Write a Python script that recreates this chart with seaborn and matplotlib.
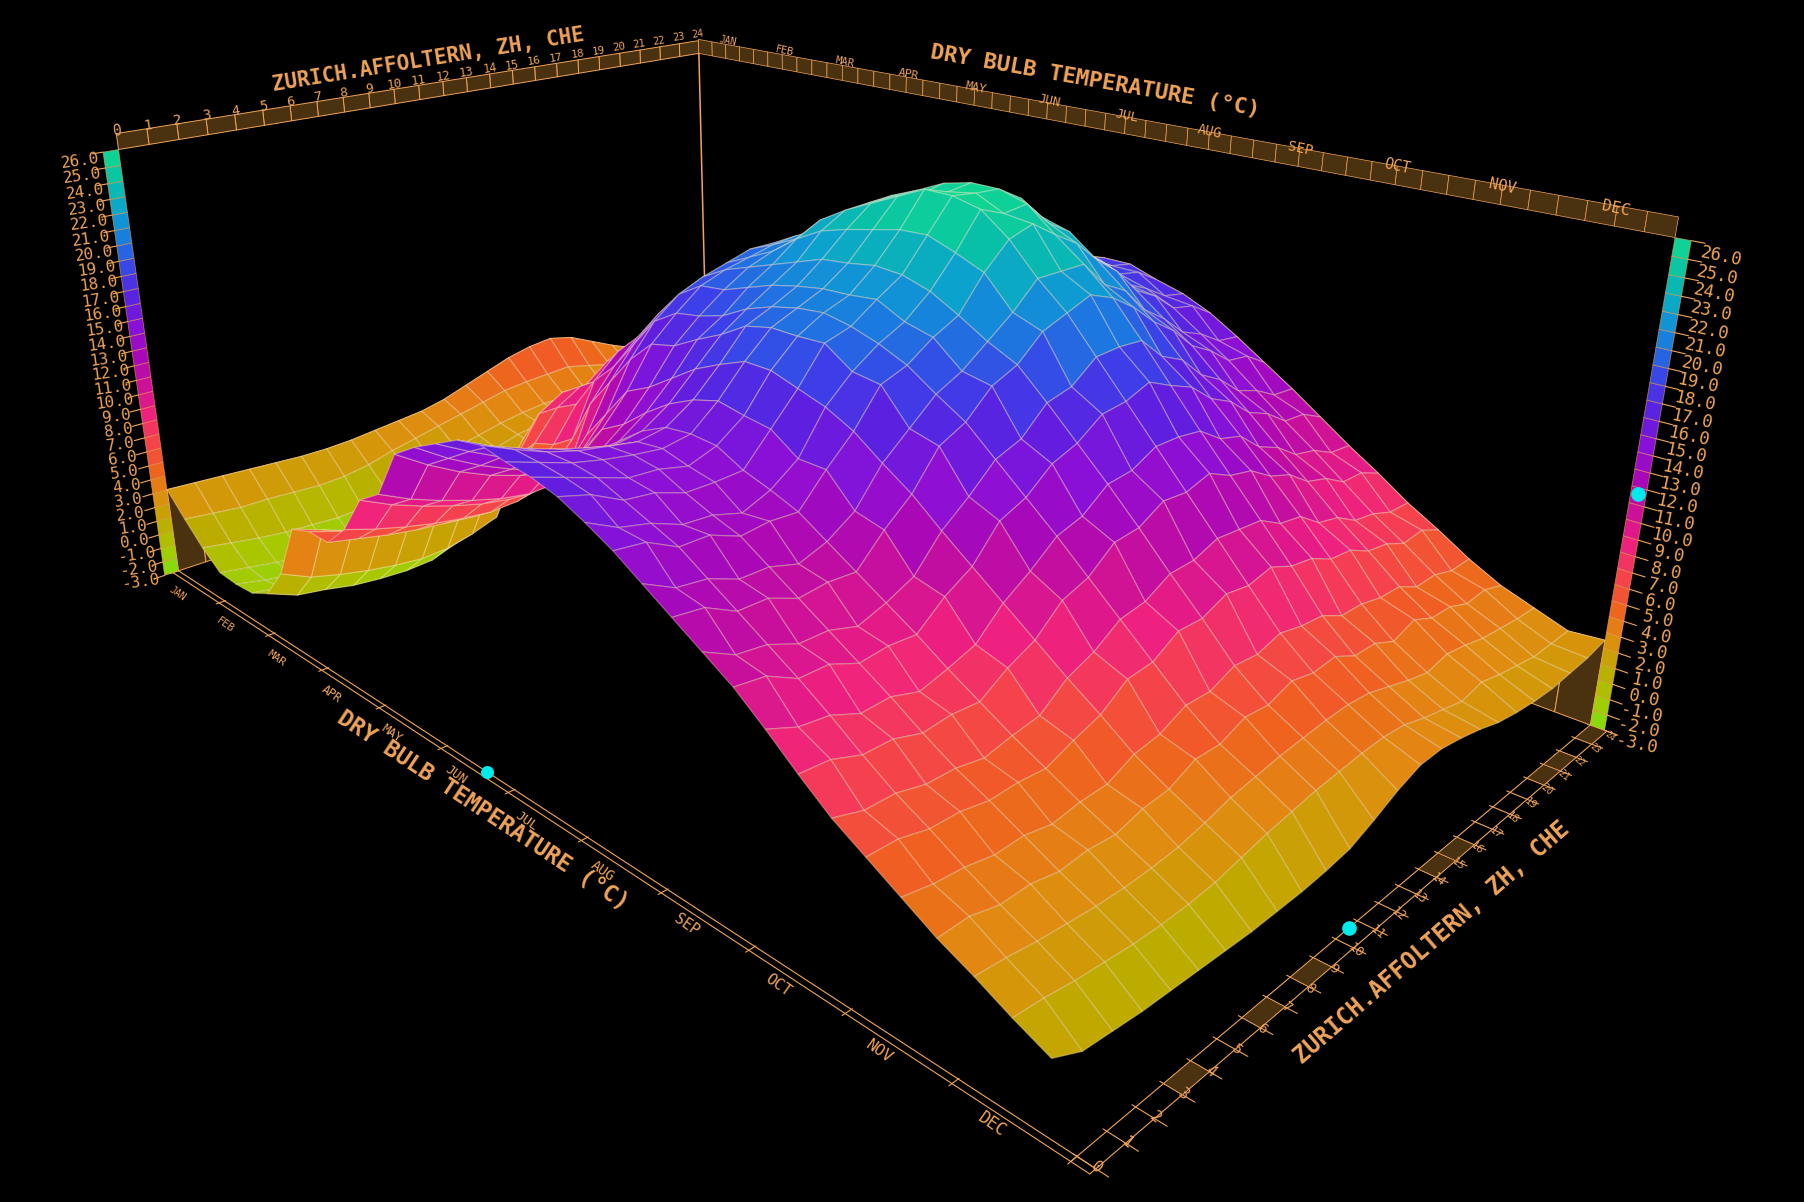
#!/usr/bin/env python3
# Surface of dry bulb temperature by month and hour, seen from above the December corner.
import numpy as np
import seaborn as sns
from matplotlib import pyplot as plt
from matplotlib.colors import Normalize
from mpl_toolkits.mplot3d import proj3d
from mpl_toolkits.mplot3d.art3d import Poly3DCollection

month_names = ["Jan", "Feb", "Mar", "Apr", "May", "Jun", "Jul", "Aug", "Sep", "Oct", "Nov", "Dec"]
hour_pos = list(range(25))
temp_ticks = list(range(-3, 27))
cursor_month = 5.6
cursor_hour = 10.6
cursor_temp = 11.6

# one row per hour, one value every third of a month
h00 = [3.0, 1.5, 0.1, -1.0, -1.1, -1.0, -0.3, 1.8, 5.5, 6.0, 6.0, 7.5, 10.0, 11.0, 14.0, 15.0, 15.8, 16.6, 16.9, 16.6, 16.4, 16.0, 15.3, 14.5, 13.5, 12.5, 11.5, 10.5, 9.2, 7.8, 6.5, 5.5, 4.5, 3.5, 2.7, 1.8, 1.0]
h01 = [2.9, 1.3, -0.2, -1.3, -1.5, -1.3, -1.1, 0.9, 4.8, 5.4, 5.6, 6.9, 9.1, 10.1, 12.8, 13.8, 14.8, 15.7, 16.1, 16.0, 15.8, 15.5, 14.4, 14.3, 12.6, 12.3, 10.6, 10.3, 8.5, 7.7, 6.0, 5.5, 4.2, 3.6, 2.6, 1.7, 0.2]
h02 = [2.8, 1.1, -0.5, -1.6, -1.8, -1.6, -1.4, 0.4, 4.1, 4.9, 5.2, 6.4, 8.4, 9.4, 11.8, 12.8, 13.9, 15.0, 15.4, 15.4, 15.2, 14.6, 14.0, 13.4, 12.4, 11.4, 10.4, 9.4, 8.3, 7.1, 6.0, 5.1, 4.1, 3.2, 2.4, 1.5, 0.1]
h03 = [2.7, 1.1, -0.7, -1.8, -2.1, -1.9, -1.8, 0.0, 3.6, 4.5, 4.9, 6.0, 7.8, 8.8, 11.0, 12.0, 13.3, 14.4, 14.9, 15.0, 14.6, 14.4, 13.3, 13.4, 11.7, 11.4, 9.7, 9.4, 7.6, 7.1, 5.6, 5.1, 3.8, 3.3, 2.3, 1.4, 0.0]
h04 = [2.6, 1.0, -0.8, -1.9, -2.2, -2.1, -2.0, -0.3, 3.3, 4.2, 4.7, 5.7, 7.3, 8.3, 10.4, 11.4, 12.8, 13.9, 14.6, 14.7, 14.5, 13.8, 13.2, 12.7, 11.7, 10.7, 9.7, 8.7, 7.7, 6.6, 5.6, 4.8, 3.9, 3.0, 2.2, 1.3, 0.0]
h05 = [2.5, 0.9, -0.9, -2.0, -2.3, -2.2, -2.1, -0.5, 3.0, 4.0, 4.5, 5.5, 7.0, 8.0, 10.0, 11.0, 12.4, 13.5, 14.3, 14.5, 14.1, 13.8, 12.7, 12.9, 11.2, 10.9, 9.2, 8.9, 7.2, 6.8, 5.3, 4.9, 3.6, 3.2, 2.2, 1.3, 0.0]
h06 = [2.5, 1.0, -0.8, -1.9, -2.2, -2.1, -2.0, -0.4, 3.1, 4.1, 4.6, 5.6, 7.1, 8.1, 10.1, 11.2, 12.6, 13.8, 14.6, 14.8, 14.7, 13.9, 13.4, 12.8, 11.8, 10.8, 9.8, 8.8, 7.7, 6.7, 5.7, 4.8, 3.9, 3.1, 2.3, 1.4, 0.0]
h07 = [2.6, 1.3, -0.1, -1.3, -1.6, -1.5, -1.4, 0.0, 3.5, 4.5, 5.0, 6.0, 7.5, 9.6, 11.6, 12.5, 13.8, 14.9, 15.7, 16.2, 15.9, 15.7, 14.6, 14.6, 12.9, 12.5, 10.6, 10.2, 8.3, 7.8, 6.0, 5.5, 4.0, 3.6, 2.5, 1.6, 0.0]
h08 = [2.8, 1.8, 0.6, -0.6, -0.9, -0.9, -0.8, 0.6, 4.0, 5.0, 5.6, 6.6, 9.5, 11.5, 13.5, 14.3, 15.4, 16.5, 17.3, 18.0, 18.0, 17.5, 17.0, 16.2, 15.0, 13.9, 12.5, 11.2, 9.9, 8.6, 7.3, 6.1, 4.8, 3.8, 2.9, 2.0, 0.1]
h09 = [3.0, 2.2, 0.9, 0.3, -0.1, 0.0, 2.0, 4.5, 6.0, 6.5, 7.5, 10.5, 12.5, 14.5, 16.0, 16.4, 17.3, 18.1, 19.1, 19.5, 19.5, 19.6, 18.5, 18.3, 16.4, 16.0, 13.8, 13.1, 11.0, 10.1, 8.0, 7.3, 5.1, 4.6, 3.4, 2.4, 0.2]
h10 = [3.2, 2.6, 1.5, 0.9, 0.6, 0.9, 4.5, 7.0, 8.0, 8.8, 11.0, 12.5, 14.5, 16.5, 17.5, 17.8, 18.3, 19.2, 19.8, 20.2, 20.4, 20.1, 19.6, 18.9, 17.8, 16.8, 15.3, 13.8, 12.3, 10.7, 9.1, 7.5, 5.9, 4.6, 3.7, 2.7, 0.4]
h11 = [3.6, 3.0, 1.9, 1.5, 1.2, 1.3, 5.5, 8.0, 9.0, 10.0, 12.5, 14.0, 16.0, 17.8, 18.8, 19.0, 19.6, 20.2, 20.6, 20.9, 21.0, 21.2, 20.4, 20.0, 18.6, 18.3, 15.9, 15.1, 12.8, 12.0, 9.4, 8.5, 5.9, 5.3, 4.0, 3.0, 0.7]
h12 = [4.2, 3.4, 2.3, 2.0, 1.7, 1.8, 5.5, 8.0, 9.0, 10.0, 13.0, 15.0, 17.0, 18.5, 19.4, 20.0, 20.6, 21.2, 21.8, 22.0, 22.3, 22.2, 21.7, 20.8, 19.8, 19.0, 17.4, 15.7, 14.0, 12.2, 10.3, 8.5, 6.6, 5.2, 4.2, 3.2, 1.4]
h13 = [4.8, 3.8, 2.6, 2.3, 2.0, 2.2, 7.0, 9.3, 10.2, 11.1, 12.8, 15.5, 17.5, 19.0, 19.8, 20.6, 21.8, 22.7, 23.2, 23.6, 24.0, 24.1, 23.5, 22.8, 21.0, 20.4, 17.8, 16.8, 14.2, 13.1, 10.4, 9.2, 6.5, 5.8, 4.4, 3.4, 2.2]
h14 = [5.4, 4.0, 2.8, 2.5, 2.2, 2.3, 8.0, 10.1, 11.0, 11.9, 12.8, 16.0, 18.0, 19.5, 20.2, 21.0, 22.6, 23.6, 24.4, 25.2, 26.0, 26.0, 25.6, 24.3, 22.5, 21.0, 19.0, 17.0, 15.0, 13.0, 11.0, 9.0, 7.0, 5.5, 4.5, 3.5, 2.8]
h15 = [5.8, 4.1, 2.8, 2.6, 2.2, 2.3, 8.5, 10.5, 11.4, 12.3, 13.2, 16.0, 18.0, 19.5, 20.4, 21.2, 22.7, 23.7, 24.5, 25.0, 25.5, 25.8, 25.0, 24.8, 22.5, 21.6, 19.1, 17.6, 15.0, 13.5, 10.9, 9.4, 6.7, 5.7, 4.4, 3.4, 2.9]
h16 = [6.0, 4.2, 2.8, 2.4, 2.1, 2.2, 8.5, 10.5, 11.5, 12.5, 13.5, 15.8, 17.6, 19.0, 19.8, 21.0, 22.6, 23.8, 24.5, 25.3, 25.7, 25.7, 25.2, 23.8, 22.5, 21.0, 19.0, 16.9, 14.8, 12.8, 10.8, 8.8, 6.6, 5.0, 4.0, 3.0, 2.7]
h17 = [5.6, 3.8, 2.4, 2.0, 1.7, 1.9, 8.0, 10.2, 11.3, 12.3, 13.2, 14.8, 16.2, 17.8, 19.2, 20.4, 21.8, 22.9, 23.5, 24.2, 24.4, 24.8, 23.7, 22.9, 20.9, 20.0, 17.6, 16.3, 13.8, 12.5, 10.0, 8.6, 5.9, 5.0, 3.6, 2.7, 2.4]
h18 = [4.8, 3.4, 1.9, 1.5, 1.2, 1.4, 7.5, 9.8, 11.0, 12.0, 13.0, 14.5, 15.8, 17.2, 18.6, 19.7, 20.8, 21.8, 22.5, 23.1, 23.4, 23.3, 22.8, 21.5, 20.1, 18.7, 16.9, 15.1, 13.4, 11.6, 9.8, 7.9, 5.9, 4.4, 3.3, 2.4, 2.0]
h19 = [4.0, 2.9, 1.4, 1.0, 0.7, 1.0, 7.0, 9.3, 10.5, 11.5, 12.5, 14.0, 15.2, 16.5, 17.8, 18.8, 19.8, 20.7, 21.3, 21.8, 21.8, 22.1, 21.0, 20.4, 18.5, 17.7, 15.5, 14.4, 12.2, 11.1, 8.8, 7.8, 5.6, 5.0, 3.7, 2.8, 1.8]
h20 = [3.3, 2.4, 0.9, 0.5, 0.2, 0.5, 6.5, 8.8, 10.0, 11.0, 12.0, 13.5, 14.5, 15.7, 16.8, 17.8, 18.7, 19.5, 20.1, 20.5, 20.7, 20.4, 19.9, 18.8, 17.5, 16.3, 14.7, 13.2, 11.6, 10.1, 8.5, 7.1, 5.6, 4.4, 3.5, 2.5, 1.7]
h21 = [2.8, 2.0, 0.5, 0.0, -0.3, 0.0, 6.5, 8.8, 10.0, 11.0, 12.0, 13.0, 14.0, 15.0, 16.0, 16.9, 17.8, 18.5, 19.1, 19.5, 19.4, 19.4, 18.3, 18.0, 16.2, 15.5, 13.5, 12.6, 10.6, 9.7, 7.7, 6.9, 4.9, 4.4, 3.2, 2.3, 1.7]
h22 = [2.5, 1.7, 0.2, -0.3, -0.6, -0.3, 7.0, 9.3, 10.5, 11.5, 12.0, 12.5, 13.5, 14.5, 15.3, 16.1, 17.0, 17.7, 18.3, 18.6, 18.6, 18.1, 17.6, 16.8, 15.6, 14.4, 13.0, 11.6, 10.3, 8.9, 7.5, 6.3, 5.0, 3.9, 3.1, 2.1, 1.9]
h23 = [2.4, 1.6, 0.0, -0.6, -0.9, -0.6, 8.0, 9.8, 10.5, 11.0, 11.5, 12.0, 13.0, 14.0, 14.8, 15.5, 16.3, 17.0, 17.7, 18.0, 17.8, 17.8, 16.7, 16.5, 14.7, 14.2, 12.2, 11.5, 9.6, 8.9, 7.0, 6.5, 4.6, 4.1, 3.0, 2.2, 2.1]
h24 = [2.4, 1.5, -0.2, -0.8, -1.1, -0.8, 7.5, 9.3, 10.0, 10.5, 11.0, 11.5, 12.5, 13.5, 14.3, 15.0, 15.8, 16.5, 17.2, 17.5, 17.5, 16.9, 16.4, 15.6, 14.5, 13.3, 12.1, 10.8, 9.5, 8.3, 7.0, 5.9, 4.7, 3.7, 3.0, 2.3, 2.5]
temps = np.array([h00, h01, h02, h03, h04, h05, h06, h07, h08, h09, h10, h11, h12, h13, h14, h15, h16, h17, h18, h19, h20, h21, h22, h23, h24])
month_pos = np.arange(temps.shape[1]) / 3

ORANGE = "#f0a458"
BROWN = "#4a3110"
FW, FH = 1804, 1202

sns.set_theme(style="dark", rc={"figure.facecolor": "black", "axes.facecolor": "black", "savefig.facecolor": "black"})
plt.rcParams["font.family"] = ["DejaVu Sans Mono"]

bar_colors = ["#80e010", "#a8c800", "#c0a800", "#e08c10", "#f06020", "#f54050", "#ee2080", "#cc1098",
              "#a808b8", "#8a10d8", "#5c20e0", "#3c40e8", "#1c78e0", "#0ca0d0", "#08c0a8", "#10d890"]
cmap = sns.blend_palette(bar_colors, as_cmap=True)
norm = Normalize(-3, 26)

fig = plt.figure(figsize=(FW / 100, FH / 100), dpi=100)
ax = fig.add_axes([37.0 / FW, -14.2 / FH, 1537.9 / FW, 1537.9 / FH], projection="3d", computed_zorder=False)
ax.set_axis_off()
ax.patch.set_alpha(0)
ax.set_xlim(0, 12)
ax.set_ylim(0, 24)
ax.set_zlim(-3, 26)
ax.view_init(elev=21.411, azim=-44.991)
ax.set_box_aspect((1.5989, 1, 0.6057))
ax.set_proj_type("persp", focal_length=0.22155)
M = ax.get_proj()


def tag(x, y, z, text, dx, dy, size, rot):
    sx, sy, _ = proj3d.proj_transform(x, y, z, M)
    ax.annotate(text, xy=(sx, sy), xytext=(dx, dy), textcoords="offset pixels", color=ORANGE, fontsize=size, rotation=rot,
                ha="center", va="center", rotation_mode="anchor", annotation_clip=False, zorder=30)


def flat(polys, face, edge=ORANGE, lw=0.7, z=2):
    col = Poly3DCollection(polys, facecolors=face, edgecolors=edge, linewidths=lw, zorder=z)
    ax.add_collection3d(col)


# curtains under the two back edges
flat([[(0, hour_pos[i], -3), (0, hour_pos[i + 1], -3), (0, hour_pos[i + 1], temps[i + 1, 0]), (0, hour_pos[i], temps[i, 0])] for i in range(24)], BROWN, z=3)
flat([[(month_pos[i], 24, -3), (month_pos[i + 1], 24, -3), (month_pos[i + 1], 24, temps[-1, i + 1]), (month_pos[i], 24, temps[-1, i])] for i in range(len(month_pos) - 1)], BROWN, z=3)

# back ribbons
flat([[(0, i, 26), (0, i + 1, 26), (0, i + 1, 27.0), (0, i, 27.0)] for i in range(24)], BROWN)
flat([[(i / 4, 24, 26), ((i + 1) / 4, 24, 26), ((i + 1) / 4, 24, 27.1), (i / 4, 24, 27.1)] for i in range(48)], BROWN, lw=0.5)
ax.plot([0, 0], [24, 24], [3, 26], color=ORANGE, lw=1.1, zorder=2)

# colour bars on the two outer corners
cell_colors = cmap(norm(np.array(temp_ticks[:-1]) + 0.5))
flat([[(0, -0.5, t), (0, 0, t), (0, 0, t + 1), (0, -0.5, t + 1)] for t in temp_ticks[:-1]], cell_colors, edge=(0.95, 0.65, 0.35, 0.6), lw=0.6, z=4)
flat([[(12, 24, t), (12.13, 24, t), (12.13, 24, t + 1), (12, 24, t + 1)] for t in temp_ticks[:-1]], cell_colors, edge=(0.95, 0.65, 0.35, 0.6), lw=0.6, z=4)
for t in temp_ticks:
    ax.plot([0, 0], [-0.5, -0.85], [t, t], color=ORANGE, lw=0.8, zorder=4)
    ax.plot([12.13, 12.24], [24, 24], [t, t], color=ORANGE, lw=0.8, zorder=4)
    lab = f"{t:.1f}"
    tag(0, 0, t, lab, -38, -11, 11.5, 8)
    tag(12, 24, t, lab, 46, -19, 12.5, -12)

# floor rails in front
ax.plot([0, 12.15], [0, 0], [-3, -3], color=ORANGE, lw=0.8, zorder=2)
ax.plot([0, 12.15], [-0.2, -0.2], [-3, -3], color=ORANGE, lw=0.8, zorder=2)
ax.plot([12, 12], [-0.2, 24], [-3, -3], color=ORANGE, lw=0.8, zorder=2)
ax.plot([12.15, 12.15], [-0.2, 24], [-3, -3], color=ORANGE, lw=0.8, zorder=2)
for m in range(13):
    ax.plot([m, m], [0.03, -0.3], [-3, -3], color=ORANGE, lw=0.8, zorder=2)
for i in range(25):
    ax.plot([11.97, 12.25], [i, i], [-3, -3], color=ORANGE, lw=0.8, zorder=2)
flat([[(12, a0, -3), (12, a0 + 1, -3), (12.15, a0 + 1, -3), (12.15, a0, -3)] for a0 in [3, 6, 8, 14, 15, 20, 21, 23]], BROWN, lw=0.5)

# surface, the front corner of the grid sits a little short of December
xx, yy = np.meshgrid(month_pos, hour_pos)
xx = xx * (1 - 0.02 * (1 - yy / 24))
mean_cells = (temps[:-1, :-1] + temps[1:, :-1] + temps[:-1, 1:] + temps[1:, 1:]) / 4
surf = ax.plot_surface(xx, yy, temps, facecolors=cmap(norm(mean_cells)), rstride=1, cstride=1, shade=False, antialiased=True, linewidth=0.9, zorder=10)
surf.set_edgecolor((1, 0.93, 0.8, 0.35))

# month and hour tick labels
for i, name in enumerate(month_names):
    tag(i + 0.5, 24, 26, name.upper(), 2, 18, 7 + i * 0.4, -12)
    tag(i + 0.5, 0, -3, name.upper(), -24, -8, 7 + i * 0.45, -35)
for i in range(25):
    tag(0, i, 26, str(i), -1, 19, 10.5 - i * 0.14, 9)
    tag(12, i, -3, str(i), 20, -11, 11.5 - i * 0.22, -40)

# cursor dots
ax.scatter([cursor_month], [0], [-3], color="#00ecec", s=70, depthshade=False, zorder=20)
ax.scatter([12], [cursor_hour], [-3], color="#00ecec", s=90, depthshade=False, zorder=20)
ax.scatter([12.06], [24], [cursor_temp], color="#00ecec", s=90, depthshade=False, zorder=20)

# axis titles
fig.text(428 / FW, 1 - 60 / FH, "ZURICH.AFFOLTERN, ZH, CHE", color=ORANGE, fontsize=15, rotation=9.2, ha="center", va="center", rotation_mode="anchor", weight="bold")
fig.text(1095 / FW, 1 - 81 / FH, "DRY BULB TEMPERATURE (°C)", color=ORANGE, fontsize=16, rotation=-10, ha="center", va="center", rotation_mode="anchor", weight="bold")
fig.text(483 / FW, 1 - 811 / FH, "DRY BULB TEMPERATURE (°C)", color=ORANGE, fontsize=16.5, rotation=-33.4, ha="center", va="center", rotation_mode="anchor", weight="bold")
fig.text(1432 / FW, 1 - 943 / FH, "ZURICH.AFFOLTERN, ZH, CHE", color=ORANGE, fontsize=17, rotation=41, ha="center", va="center", rotation_mode="anchor", weight="bold")

# the axes box is smaller than the scene, nothing may be cut at its edge
for artist in ax.get_children():
    if artist is not ax.patch:
        artist.set_clip_on(False)

fig.savefig("out.png", dpi=100)
